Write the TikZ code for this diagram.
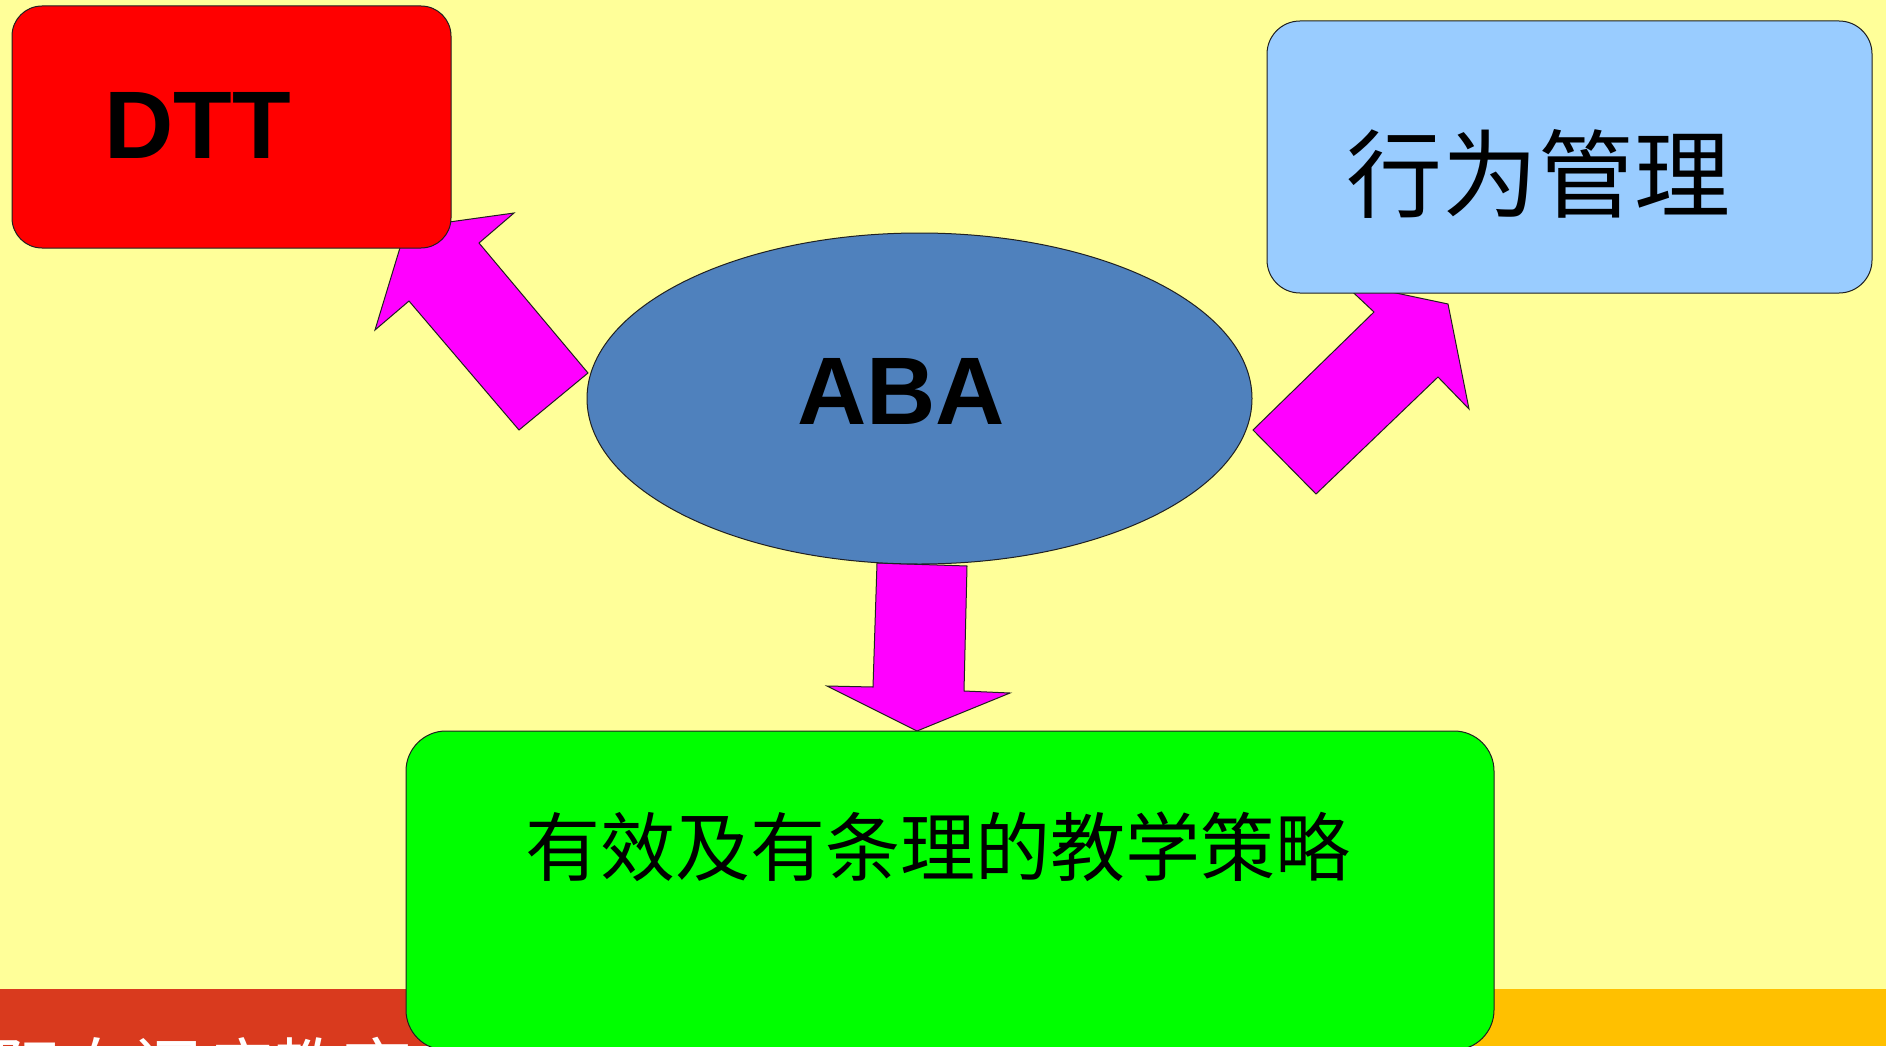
\documentclass[tikz,border=0pt]{standalone}
\usepackage{fontspec}
\setmainfont{Liberation Sans}
\newfontfamily\cjk{Noto Sans CJK SC}
\usetikzlibrary{shapes.geometric}
\definecolor{bgyellow}{HTML}{FFFF99}
\definecolor{dttred}{HTML}{FF0000}
\definecolor{boxblue}{HTML}{99CCFF}
\definecolor{ellblue}{HTML}{4F81BD}
\definecolor{boxgreen}{HTML}{00FF00}
\definecolor{arrowmag}{HTML}{FF00FF}
\definecolor{stripred}{HTML}{D93A1E}
\definecolor{striporange}{HTML}{FFC000}
\definecolor{edge}{HTML}{202020}
\tikzset{
  blockarrow/.style={fill=arrowmag, draw=edge, line width=1pt, line join=miter},
  roundbox/.style={draw=edge, line width=1pt, rectangle, inner sep=0pt},
  bigbold/.style={inner sep=0pt, font=\fontsize{96}{100}\selectfont\bfseries},
}
\begin{document}
\begin{tikzpicture}[x=1pt,y=-1pt]
\useasboundingbox (0,0) rectangle (1886,1046);
\fill[bgyellow] (0,0) rectangle (1886,1046);
% bottom strip
\fill[stripred] (0,989) rectangle (950,1046);
\fill[striporange] (950,989) rectangle (1886,1046);
\begin{scope}
\clip (0,989) rectangle (950,1046);
\node[anchor=base west, inner sep=0pt, text=white, font=\cjk\fontsize{70}{72}\selectfont] (footer) at (-78,1096) {国际自闭症教育};
\end{scope}
% block arrows
\draw[blockarrow] (588,373) -- (479,243) -- (514,213) -- (406,228) -- (375,330) -- (409,301) -- (519,430) -- cycle;
\draw[blockarrow] (1253,430) -- (1374,312) -- (1341.5,281.5) -- (1448,304) -- (1469,409) -- (1438,377) -- (1316,494) -- cycle;
\draw[blockarrow] (877,563) -- (967,566) -- (964,691) -- (1010,693) -- (917,731) -- (827,686) -- (873,687) -- cycle;
% central ellipse
\node[ellipse, draw=edge, line width=1pt, fill=ellblue, minimum width=665pt, minimum height=331pt, inner sep=0pt] (aba) at (919.5,398.5) {};
\node[bigbold] (abalabel) at (901,391) {ABA};
% DTT box
\node[roundbox, fill=dttred, rounded corners=30pt, minimum width=439pt, minimum height=242pt] (dtt) at (231.5,127) {};
\node[bigbold] (dttlabel) at (197.5,125.5) {DTT};
% behaviour management box
\node[roundbox, fill=boxblue, rounded corners=33pt, minimum width=605pt, minimum height=272pt] (bm) at (1569.5,157) {};
\node[inner sep=0pt, font=\cjk\fontsize{96}{100}\selectfont] (bmlabel) at (1538,174) {行为管理};
% strategies box
\node[roundbox, fill=boxgreen, rounded corners=40pt, minimum width=1088pt, minimum height=319pt] (strat) at (950,890.5) {};
\node[inner sep=0pt, font=\cjk\fontsize{75}{78}\selectfont] (stratlabel) at (938,847) {有效及有条理的教学策略};
\end{tikzpicture}
\end{document}
